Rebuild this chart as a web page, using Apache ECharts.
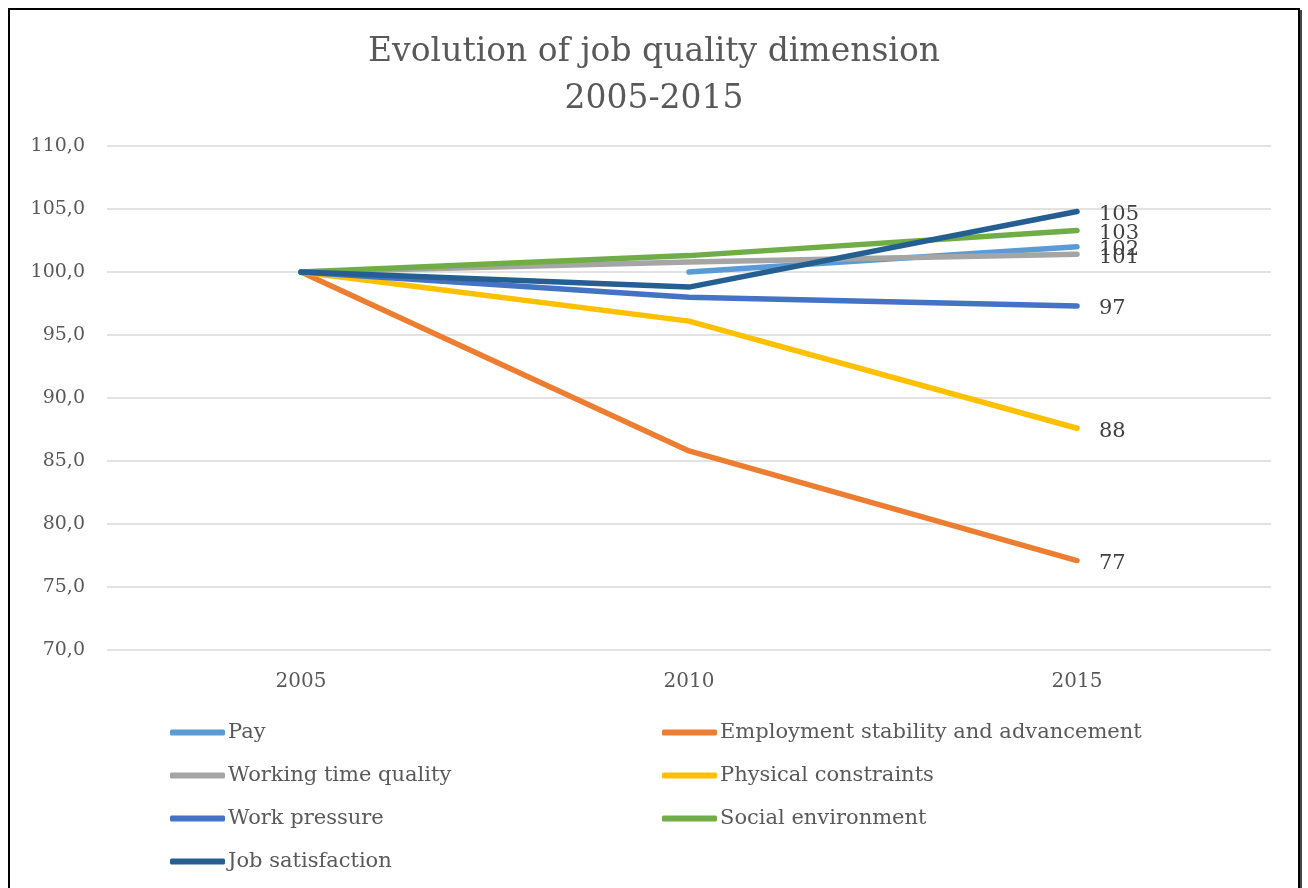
<!DOCTYPE html>
<html><head><meta charset="utf-8">
<script src="https://cdn.jsdelivr.net/npm/echarts@6/dist/echarts.min.js"></script>
<style>html,body{margin:0;padding:0;background:#fff}#c{width:1308px;height:888px}</style>
</head><body><div id="c"></div>
<script>
const years = ['2005', '2010', '2015'];
const pay = [null, 100, 102.0];
const employment = [100, 85.8, 77.1];
const workingTime = [100, 100.8, 101.4];
const physical = [100, 96.1, 87.6];
const workPressure = [100, 98.0, 97.3];
const socialEnv = [100, 101.3, 103.3];
const jobSatisfaction = [100, 98.8, 104.8];
const yTicks = [70, 110, 5];

const FONT = 'DejaVu Serif';
const TXT = '#595959';
const defs = [
  ['Pay', pay, '#5B9BD5'],
  ['Employment stability and advancement', employment, '#ED7D31'],
  ['Working time quality', workingTime, '#A5A5A5'],
  ['Physical constraints', physical, '#FFC000'],
  ['Work pressure', workPressure, '#4472C4'],
  ['Social environment', socialEnv, '#70AD47'],
  ['Job satisfaction', jobSatisfaction, '#255E91']
];
const chart = echarts.init(document.getElementById('c'));
const legendBase = {
  orient: 'vertical', itemWidth: 55, itemHeight: 6, itemGap: 22, icon: 'roundRect', padding: 0,
  textStyle: {fontFamily: FONT, fontSize: 21, color: TXT, padding: [0,0,0,-2]}
};
chart.setOption({
  animation: false,
  textStyle: {fontFamily: FONT},
  title: {
    text: 'Evolution of job quality dimension\n2005-2015',
    left: 'center', top: 24,
    textStyle: {fontFamily: FONT, fontSize: 33, fontWeight: 'normal', color: TXT, lineHeight: 47}
  },
  graphic: [
    {type: 'rect', shape: {x: 9, y: 9, width: 1290, height: 900}, style: {fill: 'none', stroke: '#000', lineWidth: 2}, silent: true},
    {type: 'line', shape: {x1: 1301, y1: 10, x2: 1301, y2: 888}, style: {stroke: '#444', lineWidth: 2}, silent: true}
  ],
  grid: {left: 107, right: 37, top: 146, bottom: 238},
  legend: [
    Object.assign({}, legendBase, {left: 170, top: 722, data: ['Pay', 'Working time quality', 'Work pressure', 'Job satisfaction']}),
    Object.assign({}, legendBase, {left: 662, top: 722, data: ['Employment stability and advancement', 'Physical constraints', 'Social environment']})
  ],
  xAxis: {
    type: 'category', data: years, boundaryGap: true,
    axisLine: {show: false}, axisTick: {show: false},
    axisLabel: {fontFamily: FONT, fontSize: 20, color: TXT, margin: 22}
  },
  yAxis: {
    type: 'value', min: yTicks[0], max: yTicks[1], interval: yTicks[2],
    axisLine: {show: false}, axisTick: {show: false},
    splitLine: {lineStyle: {color: '#d9d9d9', width: 1.5}},
    axisLabel: {fontFamily: FONT, fontSize: 19, color: TXT, margin: 22, formatter: v => v.toFixed(1).replace('.', ',')}
  },
  series: defs.map(([name, data, color]) => ({
    name, type: 'line', data, color,
    showSymbol: false, symbol: 'none',
    lineStyle: {width: 5.5, color, cap: 'round', join: 'round'},
    endLabel: {show: true, distance: 22, offset: [0, 3], fontFamily: FONT, fontSize: 21, color: '#404040', formatter: p => Math.round(p.value)}
  }))
});
</script></body></html>
